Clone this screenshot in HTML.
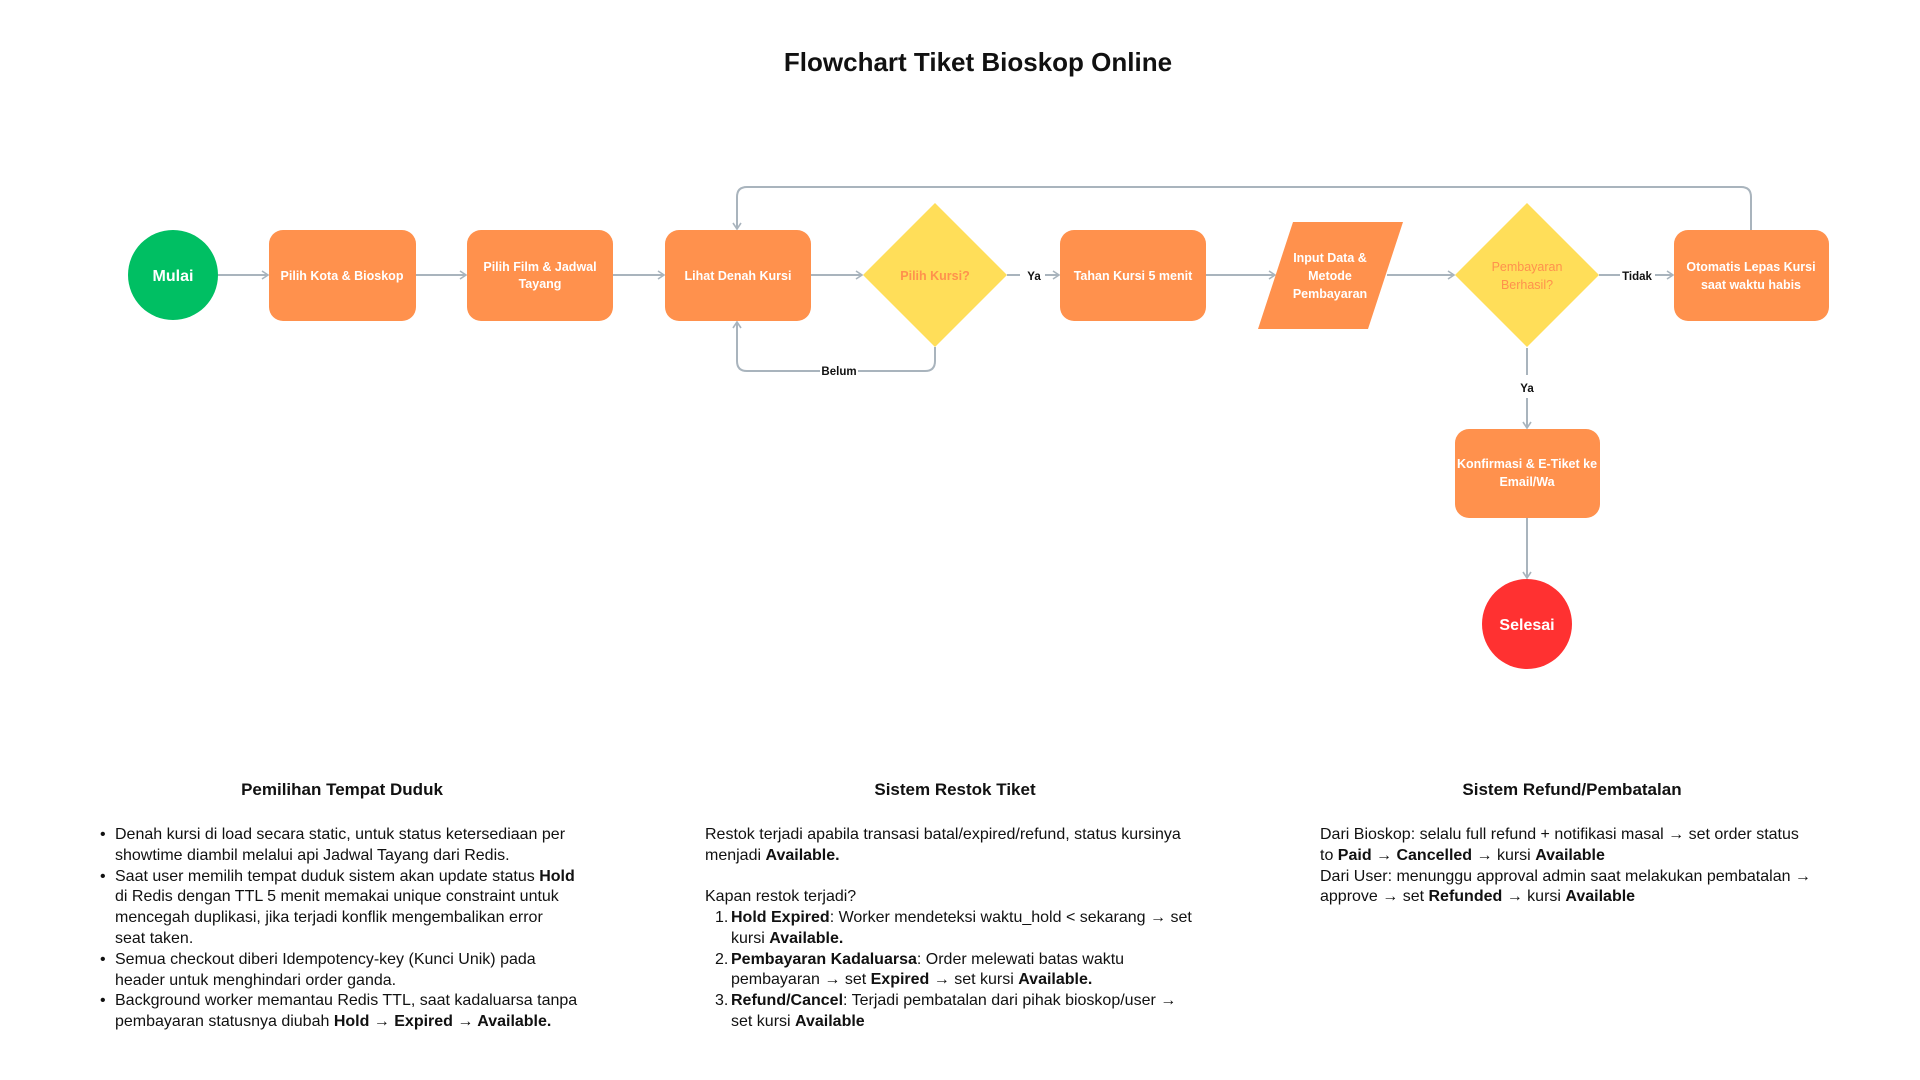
<!DOCTYPE html>
<html><head><meta charset="utf-8"><style>
body{margin:0;width:1920px;height:1080px;background:#fff;position:relative;overflow:hidden;font-family:"Liberation Sans",sans-serif;color:#111}
.h{position:absolute;font-weight:bold;font-size:17px;text-align:center;width:500px}
.t{position:absolute;font-size:16px;line-height:20.8px;white-space:nowrap}
.t b{font-weight:bold}
</style></head><body>
<svg width="1920" height="1080" style="position:absolute;left:0;top:0" font-family="Liberation Sans, sans-serif">
<defs><marker id="a" markerWidth="10" markerHeight="10" refX="8" refY="5" orient="auto" markerUnits="userSpaceOnUse"><path d="M2,1 L8,5 L2,9" fill="none" stroke="#a9b4bd" stroke-width="1.6"/></marker></defs>
<text x="978" y="71" text-anchor="middle" font-size="26" font-weight="bold" fill="#111">Flowchart Tiket Bioskop Online</text>
<g stroke="#a9b4bd" stroke-width="2" fill="none">
<line x1="218" y1="275" x2="268" y2="275" marker-end="url(#a)"/>
<line x1="416" y1="275" x2="466" y2="275" marker-end="url(#a)"/>
<line x1="613" y1="275" x2="664" y2="275" marker-end="url(#a)"/>
<line x1="811" y1="275" x2="862" y2="275" marker-end="url(#a)"/>
<line x1="1007" y1="275" x2="1020" y2="275"/>
<line x1="1045" y1="275" x2="1059" y2="275" marker-end="url(#a)"/>
<line x1="1206" y1="275" x2="1275" y2="275" marker-end="url(#a)"/>
<line x1="1387" y1="275" x2="1454" y2="275" marker-end="url(#a)"/>
<line x1="1599" y1="275" x2="1620" y2="275"/>
<line x1="1655" y1="275" x2="1673" y2="275" marker-end="url(#a)"/>
<line x1="1527" y1="348" x2="1527" y2="375"/>
<line x1="1527" y1="398" x2="1527" y2="428" marker-end="url(#a)"/>
<line x1="1527" y1="518" x2="1527" y2="578" marker-end="url(#a)"/>
<path d="M935,347 V361 Q935,371 925,371 H858"/>
<path d="M820,371 H747 Q737,371 737,361 V322" marker-end="url(#a)"/>
<path d="M1751,230 V197 Q1751,187 1741,187 H747 Q737,187 737,197 V229" marker-end="url(#a)"/>
</g>
<circle cx="173" cy="275" r="45" fill="#00bf63"/>
<text x="173" y="281" text-anchor="middle" font-size="16" font-weight="bold" fill="#fff">Mulai</text>
<g fill="#ff914d">
<rect x="269" y="230" width="147" height="91" rx="14"/>
<rect x="467" y="230" width="146" height="91" rx="14"/>
<rect x="665" y="230" width="146" height="91" rx="14"/>
<rect x="1060" y="230" width="146" height="91" rx="14"/>
<polygon points="1293,222 1403,222 1368,329 1258,329"/>
<rect x="1674" y="230" width="155" height="91" rx="14"/>
<rect x="1455" y="429" width="145" height="89" rx="14"/>
</g>
<polygon points="935,203 1007,275 935,347 863,275" fill="#ffde59"/>
<polygon points="1527,203 1599,275 1527,347 1455,275" fill="#ffde59"/>
<circle cx="1527" cy="624" r="45" fill="#ff3131"/>
<g font-size="12.5" font-weight="bold" fill="#fff" text-anchor="middle">
<text x="342" y="280">Pilih Kota &amp; Bioskop</text>
<text x="540" y="271">Pilih Film &amp; Jadwal</text><text x="540" y="288">Tayang</text>
<text x="738" y="280">Lihat Denah Kursi</text>
<text x="1133" y="280">Tahan Kursi 5 menit</text>
<text x="1330" y="262">Input Data &amp;</text><text x="1330" y="280">Metode</text><text x="1330" y="298">Pembayaran</text>
<text x="1751" y="271">Otomatis Lepas Kursi</text><text x="1751" y="289">saat waktu habis</text>
<text x="1527" y="468">Konfirmasi &amp; E-Tiket ke</text><text x="1527" y="486">Email/Wa</text>
<text x="1527" y="630" font-size="16">Selesai</text>
<text x="935" y="280" fill="#ff914d">Pilih Kursi?</text>
<text x="1527" y="271" fill="#ff914d" font-weight="normal">Pembayaran</text><text x="1527" y="289" fill="#ff914d" font-weight="normal">Berhasil?</text>
</g>
<g font-size="11.5" font-weight="bold" fill="#111" text-anchor="middle">
<text x="1034" y="280">Ya</text>
<text x="1637" y="280">Tidak</text>
<text x="1527" y="392">Ya</text>
<text x="839" y="375">Belum</text>
</g>
</svg>

<div class="h" style="left:92px;top:780px">Pemilihan Tempat Duduk</div>
<div class="h" style="left:705px;top:780px">Sistem Restok Tiket</div>
<div class="h" style="left:1322px;top:780px">Sistem Refund/Pembatalan</div>

<div class="t" style="left:100px;top:825px">•<br><br>•<br><br><br><br>•<br><br>•</div>
<div class="t" style="left:115px;top:825px">Denah kursi di load secara static, untuk status ketersediaan per<br>showtime diambil melalui api Jadwal Tayang dari Redis.<br>Saat user memilih tempat duduk sistem akan update status <b>Hold</b><br>di Redis dengan TTL 5 menit memakai unique constraint untuk<br>mencegah duplikasi, jika terjadi konflik mengembalikan error<br>seat taken.<br>Semua checkout diberi Idempotency-key (Kunci Unik) pada<br>header untuk menghindari order ganda.<br>Background worker memantau Redis TTL, saat kadaluarsa tanpa<br>pembayaran statusnya diubah <b>Hold → Expired → Available.</b></div>

<div class="t" style="left:705px;top:825px">Restok terjadi apabila transasi batal/expired/refund, status kursinya<br>menjadi <b>Available.</b><br><br>Kapan restok terjadi?</div>
<div class="t" style="left:715px;top:908px">1.<br><br>2.<br><br>3.</div>
<div class="t" style="left:731px;top:908px"><b>Hold Expired</b>: Worker mendeteksi waktu_hold &lt; sekarang → set<br>kursi <b>Available.</b><br><b>Pembayaran Kadaluarsa</b>: Order melewati batas waktu<br>pembayaran → set <b>Expired</b> → set kursi <b>Available.</b><br><b>Refund/Cancel</b>:  Terjadi pembatalan dari pihak bioskop/user →<br>set kursi <b>Available</b></div>

<div class="t" style="left:1320px;top:825px">Dari Bioskop: selalu full refund + notifikasi masal → set order status<br>to <b>Paid → Cancelled</b> → kursi <b>Available</b><br>Dari User:  menunggu approval admin saat melakukan pembatalan →<br>approve → set <b>Refunded</b> → kursi <b>Available</b></div>
</body></html>
